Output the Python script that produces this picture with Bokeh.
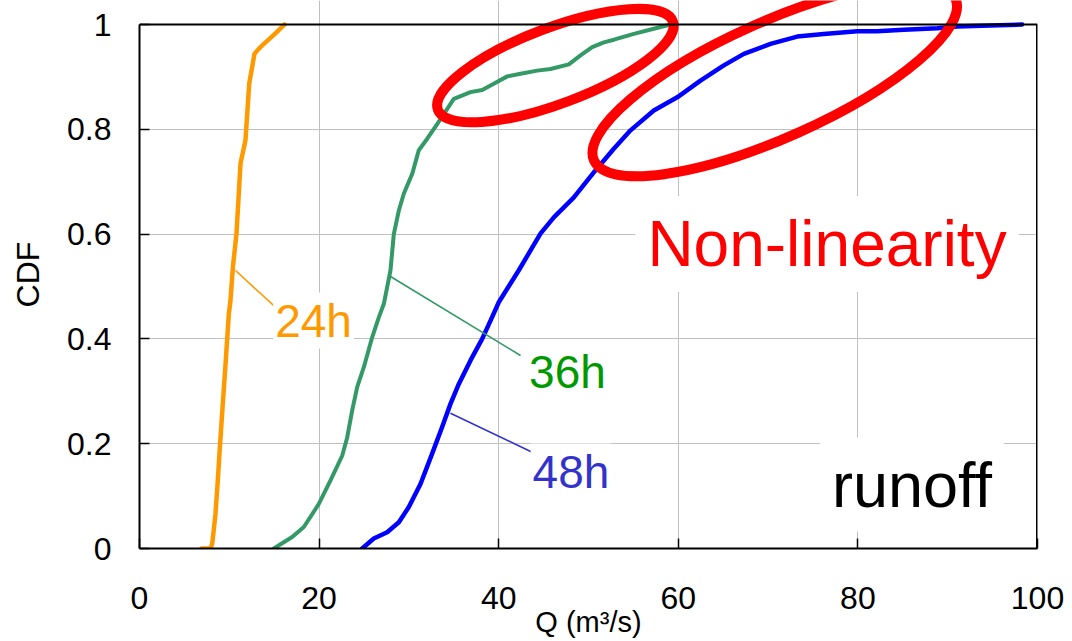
from bokeh.plotting import figure
from bokeh.models import Label, Span, Range1d, FixedTicker, NumeralTickFormatter
from bokeh.embed import file_html
from bokeh.resources import INLINE
import math

FONT = "Liberation Sans"

# ---------------- data ----------------
q_24h = [6.9, 7.9, 8.1, 8.46, 8.72, 8.95, 9.2, 9.58, 9.95, 10.13, 10.4, 10.8, 11.25, 11.8, 12.22, 12.8, 13.3, 13.85, 15.14, 16.15]
cdf_24h = [0.0, 0.0, 0.009, 0.066, 0.130, 0.193, 0.257, 0.352, 0.448, 0.473, 0.537, 0.601, 0.735, 0.779, 0.887, 0.944, 0.954, 0.963, 0.983, 1.0]

q_36h = [14.96, 17.0, 18.3, 19.97, 21.27, 22.57, 23.13, 23.68, 24.24, 24.98, 25.91, 26.65, 27.21, 27.58,
         27.95, 28.32, 28.88, 29.43, 30.37, 31.1, 32.04, 33.15, 35.0, 36.86, 38.16, 39.45, 40.95, 42.43,
         44.29, 45.77, 47.81, 49.11, 50.41, 51.71, 52.83, 55.05, 57.27, 59.13]
cdf_36h = [0.0, 0.022, 0.041, 0.085, 0.130, 0.177, 0.212, 0.263, 0.308, 0.346, 0.403, 0.441, 0.467, 0.499,
           0.531, 0.600, 0.645, 0.677, 0.715, 0.760, 0.782, 0.810, 0.858, 0.871, 0.875, 0.887, 0.901, 0.906,
           0.912, 0.915, 0.924, 0.941, 0.957, 0.966, 0.971, 0.982, 0.992, 1.0]

q_48h = [24.8, 26.09, 27.58, 28.88, 29.99, 31.29, 32.59, 33.7, 34.63, 35.56, 36.86, 38.16, 39.09, 40.01,
         42.24, 44.65, 46.14, 48.37, 50.7, 52.82, 54.68, 57.27, 59.88, 62.47, 65.07, 67.3, 70.27, 73.24,
         76.2, 79.92, 82.15, 85.11, 88.83, 91.05, 94.77, 98.3]
cdf_48h = [0.0, 0.019, 0.031, 0.050, 0.079, 0.123, 0.181, 0.232, 0.276, 0.314, 0.359, 0.400, 0.435, 0.470,
           0.531, 0.601, 0.632, 0.670, 0.720, 0.763, 0.798, 0.836, 0.861, 0.893, 0.922, 0.944, 0.963, 0.977,
           0.982, 0.987, 0.987, 0.990, 0.993, 0.996, 0.998, 1.0]

x_ticks = [0, 20, 40, 60, 80, 100]
y_ticks = [0, 0.2, 0.4, 0.6, 0.8, 1.0]

series_names = ["24h", "36h", "48h"]

# ---------------- annotation placement ----------------
# leader lines (data coordinates): from the curve to the label
lead_x0 = [10.69, 27.95, 34.63]
lead_y0 = [0.5305, 0.519, 0.258]
lead_x1 = [15.14, 42.43, 43.73]
lead_y1 = [0.4605, 0.3683, 0.1838]
# label centres
lab_x = [19.38, 47.66, 48.05]
lab_y = [0.4351, 0.3359, 0.1469]

# hand-drawn red ellipses (centre in data units, size in screen px, angle in degrees)
ell_x = [46.31, 70.74]
ell_y = [0.9216, 0.8947]
ell_w = [251, 396]
ell_h = [76, 116]
ell_deg = [20.6, 24.1]

line_colors = ["#FF9900", "#339966", "#0000FF"]
line_widths = [4.5, 4.0, 4.5]
label_colors = ["#FF9900", "#009900", "#3333CC"]
leader_colors = ["#FF9900", "#339966", "#3333CC"]

X_MIN, X_MAX = 0, 100
Y_MIN, Y_MAX = 0, 1
PX_PER_Y = 524      # frame height between y=0 and y=1
FRAME_BOTTOM = 548  # pixel row of y=0
Y_TOP = FRAME_BOTTOM / PX_PER_Y  # extend range to canvas top so ellipses aren't clipped

p = figure(width=1072, height=641, output_backend="svg", toolbar_location=None,
           x_range=Range1d(X_MIN, X_MAX), y_range=Range1d(Y_MIN, Y_TOP),
           min_border_left=139, min_border_right=35, min_border_top=0, min_border_bottom=93)
p.outline_line_color = None
p.background_fill_color = "white"
p.border_fill_color = "white"

# axes
for ax in (p.xaxis, p.yaxis):
    ax.axis_line_color = "black"
    ax.axis_line_width = 2
    ax.major_tick_in = 10
    ax.major_tick_out = 0
    ax.major_tick_line_color = "black"
    ax.major_tick_line_width = 1.5
    ax.minor_tick_line_color = None
    ax.major_label_text_font = FONT
    ax.major_label_text_font_size = "32px"
    ax.major_label_text_color = "black"
    ax.axis_label_text_font = FONT
    ax.axis_label_text_font_style = "normal"
    ax.axis_label_text_color = "black"

p.xaxis.ticker = FixedTicker(ticks=x_ticks)
p.yaxis.ticker = FixedTicker(ticks=y_ticks)
p.yaxis.formatter = NumeralTickFormatter(format="0.[0]")
p.xaxis.formatter = NumeralTickFormatter(format="0")
p.yaxis.bounds = (Y_MIN, Y_MAX)
p.xaxis.major_label_standoff = 38
p.yaxis.major_label_standoff = 28
p.xaxis.axis_label = "Q (m³/s)"
p.xaxis.axis_label_text_font_size = "29px"
p.xaxis.axis_label_standoff = -6
p.yaxis.axis_label = "CDF"
p.yaxis.axis_label_text_font_size = "32px"
p.yaxis.axis_label_standoff = 18

# grid
p.xgrid.ticker = FixedTicker(ticks=x_ticks)
p.ygrid.ticker = FixedTicker(ticks=y_ticks)
p.xgrid.bounds = (Y_MIN, Y_MAX)
for g in (p.xgrid, p.ygrid):
    g.grid_line_color = "#C0C0C0"
    g.grid_line_width = 1

# frame top / right borders
p.add_layout(Span(location=Y_MAX, dimension="width", line_color="black", line_width=2))
p.segment(x0=[X_MAX], y0=[Y_MIN], x1=[X_MAX], y1=[Y_MAX], line_color="black", line_width=3)

# curves
for q, c, col, lw in zip([q_24h, q_36h, q_48h], [cdf_24h, cdf_36h, cdf_48h], line_colors, line_widths):
    p.line(q, c, line_color=col, line_width=lw, line_join="round", line_cap="round")

# leader lines
for i in range(3):
    p.segment(x0=[lead_x0[i]], y0=[lead_y0[i]], x1=[lead_x1[i]], y1=[lead_y1[i]],
              line_color=leader_colors[i], line_width=1.6)

# red ellipses
p.ellipse(x=ell_x, y=ell_y, width=ell_w, height=ell_h,
          angle=[math.radians(a) for a in ell_deg],
          width_units="screen", height_units="screen",
          fill_color=None, line_color="#FF0000", line_width=10)

# series labels
for i, name in enumerate(series_names):
    p.add_layout(Label(x=lab_x[i], y=lab_y[i], text=name, text_font=FONT, text_font_size="46px",
                       text_color=label_colors[i], text_align="center", text_baseline="middle",
                       background_fill_color="white", padding=2))

p.add_layout(Label(x=76.56, y=0.5811, text="Non-linearity", text_font=FONT, text_font_size="64px",
                   text_color="#FF0000", text_align="center", text_baseline="middle",
                   background_fill_color="white", padding=12))
p.add_layout(Label(x=86.02, y=0.1221, text="runoff", text_font=FONT, text_font_size="63px",
                   text_color="black", text_align="center", text_baseline="middle",
                   background_fill_color="white", padding=12))

open("out.html", "w").write(file_html(p, INLINE))
